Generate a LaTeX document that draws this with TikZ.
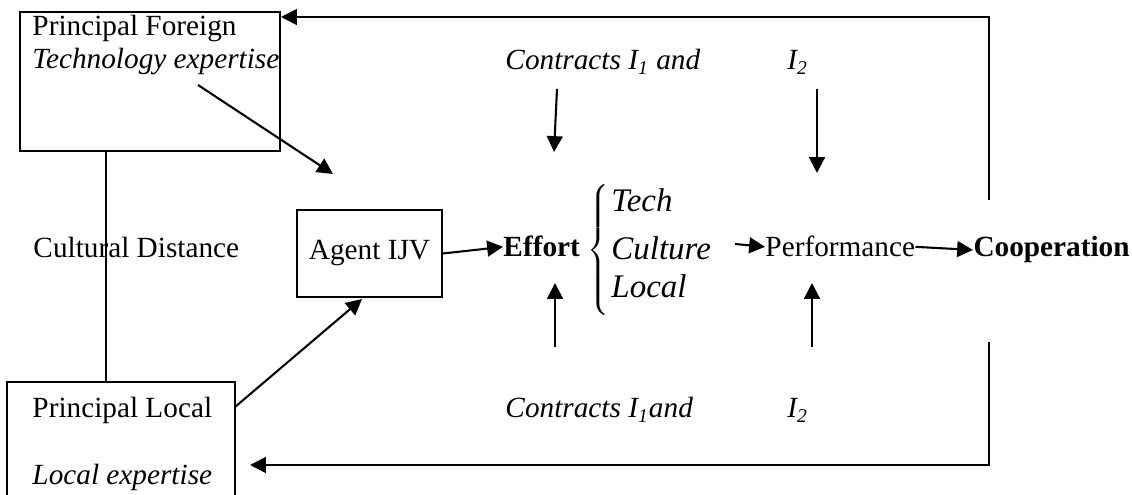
\documentclass[tikz,border=0pt]{standalone}
\usepackage{fontspec}
\setmainfont{Liberation Serif}
\usetikzlibrary{arrows.meta}

\tikzset{
  box/.style={draw, line width=0.7pt, inner sep=0pt},
  lbl/.style={anchor=base west, inner sep=0pt},
  arr/.style={-{Triangle[length=6.5pt,width=6.5pt]}, line width=0.85pt},
  feed/.style={arr, line width=0.75pt},
}
\newcommand{\bigit}{\fontsize{13.5}{16}\selectfont\itshape}

\begin{document}
\begin{tikzpicture}[x=0.41pt, y=-0.41pt, font=\fontsize{12}{14}\selectfont]
  \useasboundingbox (0,0) rectangle (1132,495);

  % Principals
  \node[box, minimum width=106.6pt, minimum height=57pt] (foreign) at (150,81.5) {};
  \node[lbl] (fname) at (32,36) {Principal Foreign};
  \node[lbl] (fskill) at (32,69) {\itshape Technology expertise};
  \node[box, minimum width=93.5pt, minimum height=47.2pt] (local) at (121,439.5) {};
  \node[lbl] (lname) at (32,418) {Principal Local};
  \node[lbl] (lskill) at (32,485) {\itshape Local expertise};
  \node[lbl] (dist) at (33,258) {Cultural Distance};

  % Agent, effort and outcome
  \node[box, minimum width=59.5pt, minimum height=35.7pt] (agent) at (369.5,253.5) {Agent IJV};
  \node[lbl] (effort) at (503,257) {\bfseries Effort};
  \node[inner sep=0pt] (brace) at (600,252.5) {$\left\{\vrule height 26pt depth 26pt width 0pt\right.$};
  \node[lbl] (tech) at (611,212) {\bigit Tech};
  \node[lbl] (culture) at (611,260) {\bigit Culture};
  \node[lbl] (localeff) at (611,298) {\bigit Local};
  \node[lbl] (perf) at (765,257) {Performance};
  \node[lbl] (coop) at (973,257) {\bfseries Cooperation};

  % Contracts
  \node[lbl] (ctop) at (505,70) {\itshape Contracts I\textsubscript{1} and};
  \node[lbl] (itop) at (787,70) {\itshape I\textsubscript{2}};
  \node[lbl] (cbot) at (505,418) {\itshape Contracts I\textsubscript{1}and};
  \node[lbl] (ibot) at (787,418) {\itshape I\textsubscript{2}};

  % Free ends of the arrows
  \coordinate (fstart) at (198,85);
  \coordinate (fend) at (333,174);
  \coordinate (lstart) at (235,407);
  \coordinate (lend) at (362,299);
  \coordinate (cstart) at (735,244);
  \coordinate (t1a) at (557,89);  \coordinate (t1b) at (554,152);
  \coordinate (t2a) at (817,89);  \coordinate (t2b) at (817,173);
  \coordinate (b1a) at (555,347); \coordinate (b1b) at (555,283);
  \coordinate (b2a) at (812,347); \coordinate (b2b) at (812,283);
  \coordinate (rtop) at (989,200);
  \coordinate (ftip) at (281,17);
  \coordinate (rbot) at (989,342);
  \coordinate (ltip) at (250,465);

  % Cultural distance
  \draw[line width=0.6pt] (foreign.south west) ++(87,0) coordinate (cd) -- (cd |- local.north);

  % Chain
  \draw[arr] (fstart) -- (fend);
  \draw[arr] (lstart) -- (lend);
  \draw[arr] (agent.east) -- (effort.west);
  \draw[arr] (cstart) -- (perf.west);
  \draw[arr] (perf.east) -- (coop.west);

  % Contracts acting on effort and performance
  \draw[arr] (t1a) -- (t1b);
  \draw[arr] (t2a) -- (t2b);
  \draw[arr] (b1a) -- (b1b);
  \draw[arr] (b2a) -- (b2b);

  % Feedback to the principals
  \draw[feed] (rtop) |- (ftip);
  \draw[feed] (rbot) |- (ltip);
\end{tikzpicture}
\end{document}
